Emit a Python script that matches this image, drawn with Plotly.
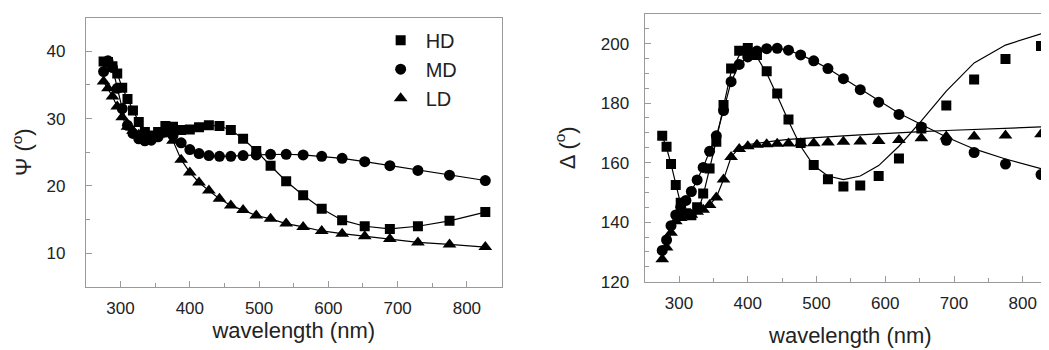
import plotly.graph_objects as go

# wavelengths (nm)
wl = [275.5, 281.8, 288.3, 295.2, 302.4, 310.0, 317.9, 326.3, 335.1, 344.4,
      354.2, 364.7, 375.7, 387.5, 400.0, 413.3, 427.5, 442.8, 459.2, 476.9,
      495.9, 516.6, 539.1, 563.6, 590.4, 619.9, 652.5, 688.8, 729.3, 774.9, 826.6]

# Psi (deg)
psi_hd = [38.5, 38.4, 37.8, 36.7, 34.6, 32.9, 31.2, 29.5, 28.0, 27.5,
          28.0, 28.9, 28.8, 28.3, 28.4, 28.7, 29.0, 28.9, 28.3, 27.0,
          25.2, 23.0, 20.7, 18.6, 16.6, 14.9, 14.0, 13.6, 14.0, 14.8, 16.1]
psi_md = [37.0, 38.6, 37.6, 34.5, 31.5, 29.0, 27.8, 27.0, 26.7, 26.8,
          27.3, 28.0, 27.5, 26.4, 25.4, 24.8, 24.5, 24.4, 24.4, 24.5,
          24.6, 24.7, 24.7, 24.6, 24.4, 24.1, 23.6, 23.0, 22.3, 21.6, 20.8]
psi_ld = [35.5, 34.5, 33.3, 31.8, 30.2, 28.8, 28.2, 27.6, 27.2, 27.2,
          27.6, 27.9, 26.7, 23.9, 22.0, 20.5, 19.3, 18.1, 17.1, 16.4,
          15.6, 15.1, 14.4, 13.9, 13.3, 12.9, 12.5, 12.1, 11.6, 11.3, 10.9]

# Delta (deg) measured
del_hd = [169.0, 165.3, 159.5, 152.5, 146.5, 143.0, 142.3, 145.0, 149.6, 158.0,
          167.0, 179.4, 191.6, 197.6, 198.5, 196.2, 190.7, 183.2, 174.5, 166.6,
          159.2, 154.4, 152.0, 152.3, 155.5, 161.4, 171.5, 179.2, 187.9, 194.8, 199.2]
del_md = [130.5, 134.0, 138.8, 142.4, 145.0, 147.3, 150.3, 154.2, 158.4, 163.8,
          169.0, 177.5, 187.2, 193.0, 195.5, 197.5, 198.3, 198.4, 197.8, 196.2,
          194.2, 191.6, 188.2, 184.5, 180.3, 176.2, 172.0, 167.5, 163.4, 159.5, 156.0]
del_ld = [127.5, 131.5, 136.4, 140.3, 141.4, 142.0, 142.5, 143.5, 144.2, 145.8,
          148.3, 154.3, 161.9, 164.6, 165.5, 166.0, 166.2, 166.3, 166.4, 166.5,
          166.5, 166.8, 167.0, 167.1, 167.3, 167.6, 168.2, 168.8, 168.8, 169.1, 169.5]

# Delta model fits
fit_hd = [169.0, 165.0, 159.5, 152.5, 146.0, 142.0, 141.5, 143.0, 149.0, 158.0,
          167.5, 179.0, 190.5, 196.0, 197.5, 195.5, 190.0, 182.5, 174.0, 165.5,
          159.0, 155.5, 154.3, 155.5, 159.0, 165.5, 174.0, 184.0, 193.5, 199.5, 203.3]
fit_md = [130.5, 134.0, 138.8, 142.4, 145.0, 147.3, 150.3, 154.2, 158.4, 163.8,
          169.0, 177.5, 187.2, 193.0, 195.5, 197.5, 198.3, 198.4, 197.8, 196.2,
          194.2, 191.6, 188.4, 184.8, 180.8, 176.6, 172.8, 168.6, 164.6, 161.2, 158.0]
fit_ld = [127.5, 131.5, 136.4, 140.3, 141.4, 142.0, 142.5, 143.5, 144.2, 145.8,
          148.3, 154.3, 161.9, 165.0, 166.0, 166.5, 167.0, 167.4, 167.8, 168.1,
          168.4, 168.8, 169.0, 169.3, 169.7, 170.0, 170.4, 170.8, 171.2, 171.6, 172.0]

names = ["HD", "MD", "LD"]
symbols = ["square", "circle", "triangle-up"]
sizes = [10, 11, 12]

fig = go.Figure()
for ys, n, s, sz in zip([psi_hd, psi_md, psi_ld], names, symbols, sizes):
    fig.add_trace(go.Scatter(x=wl, y=ys, mode="lines", line=dict(color="black", width=1.2),
                             showlegend=False, xaxis="x", yaxis="y"))
    fig.add_trace(go.Scatter(x=wl, y=ys, mode="markers", name=n,
                             marker=dict(symbol=s, size=sz, color="black"),
                             xaxis="x", yaxis="y"))
for fs, n in zip([fit_hd, fit_md, fit_ld], names):
    fig.add_trace(go.Scatter(x=wl, y=fs, mode="lines", line=dict(color="black", width=1.2),
                             showlegend=False, xaxis="x2", yaxis="y2"))
for ys, n, s, sz in zip([del_hd, del_md, del_ld], names, symbols, sizes):
    fig.add_trace(go.Scatter(x=wl, y=ys, mode="markers", name=n, showlegend=False,
                             marker=dict(symbol=s, size=sz, color="black"),
                             xaxis="x2", yaxis="y2"))

W, H = 1049, 350
axcol = "#9a9a9a"
tickfont = dict(family="Liberation Sans, Arial, sans-serif", size=17, color="#222")
titlefont = dict(family="Liberation Sans, Arial, sans-serif", size=22, color="#222")

def xax(domain, rng, anchor, lab_so, title_so):
    return dict(domain=domain, range=rng, anchor=anchor, showgrid=False, zeroline=False,
                showline=True, linecolor=axcol, linewidth=1.3, mirror=True,
                ticks="inside", ticklen=6, tickcolor=axcol, tickwidth=1.2,
                tickvals=[300, 400, 500, 600, 700, 800], tickfont=tickfont,
                minor=dict(dtick=50, tick0=0, ticks="inside", ticklen=4, tickcolor=axcol),
                title=dict(text="wavelength (nm)", font=titlefont, standoff=title_so),
                ticklabelstandoff=lab_so)

def yax(domain, rng, anchor, tv, mdt, title, lab_so, title_so):
    return dict(domain=domain, range=rng, anchor=anchor, showgrid=False, zeroline=False,
                showline=True, linecolor=axcol, linewidth=1.3, mirror=True,
                ticks="inside", ticklen=6, tickcolor=axcol, tickwidth=1.2,
                tickvals=tv, tickfont=tickfont,
                minor=dict(dtick=mdt, tick0=0, ticks="inside", ticklen=4, tickcolor=axcol),
                title=dict(text=title, font=titlefont, standoff=title_so),
                ticklabelstandoff=lab_so)

fig.update_layout(
    width=W, height=H, margin=dict(l=0, r=0, t=0, b=0),
    paper_bgcolor="white", plot_bgcolor="white",
    xaxis=xax([78 / W, 494 / W], [250, 850], "y", 6, 4),
    yaxis=yax([1 - 287 / H, 1 - 10 / H], [5, 45], "x", [10, 20, 30, 40], 5,
              "Ψ (<sup>o</sup>)", 16, 15),
    xaxis2=xax([637.3 / W, 1.0], [250, 848.4], "y2", 6, 15),
    yaxis2=yax([1 - 281.7 / H, 1 - 6 / H], [120, 210], "x2", [120, 140, 160, 180, 200], 5,
               "Δ (<sup>o</sup>)", 11, 19),
    legend=dict(x=368 / W, y=1 - 13 / H, xanchor="left", yanchor="top",
                font=dict(family="Liberation Sans, Arial, sans-serif", size=20, color="#222"),
                bgcolor="rgba(0,0,0,0)", itemwidth=40, tracegroupgap=0),
    showlegend=True,
)

fig.write_html("out.html")
